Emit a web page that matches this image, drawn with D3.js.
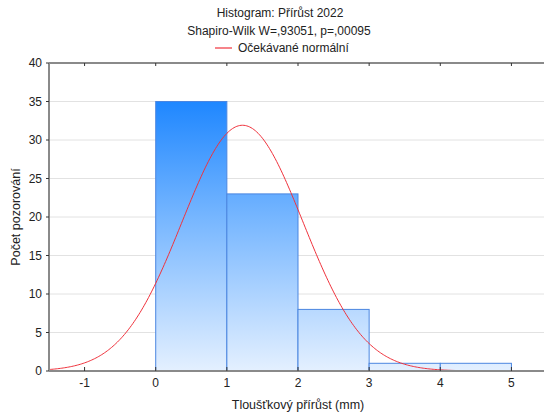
<!DOCTYPE html>
<html>
<head>
<meta charset="utf-8">
<script src="https://cdn.jsdelivr.net/npm/d3@7"></script>
<style>
  body { margin: 0; background: #fff; }
  svg text { font-family: "Liberation Sans", Arial, sans-serif; fill: #222; }
</style>
</head>
<body>
<div id="chart"></div>
<script>
// Data
var binStarts = [0, 1, 2, 3, 4];
var binCounts = [35, 23, 8, 1, 1];
var xTicks = [-1, 0, 1, 2, 3, 4, 5];
var yTicks = [0, 5, 10, 15, 20, 25, 30, 35, 40];
var normMean = 1.22;
var normSd = 0.85;
var binWidth = 1;

// Canvas
var W = 544, H = 414;
var margin = { top: 63, left: 49, right: -3, bottom: 43 };
var width = W - margin.left - margin.right;
var height = H - margin.top - margin.bottom;

var svg = d3.select("#chart").append("svg")
  .attr("width", W).attr("height", H);

var defs = svg.append("defs");
var grad = defs.append("linearGradient")
  .attr("id", "barGrad")
  .attr("gradientUnits", "userSpaceOnUse")
  .attr("x1", 0).attr("x2", 0);
defs.append("clipPath").attr("id", "clip")
  .append("rect").attr("width", width).attr("height", height);

var g = svg.append("g")
  .attr("transform", "translate(" + margin.left + "," + margin.top + ")");

// Scales
var x = d3.scaleLinear().domain([-1.5, 5.5]).range([0, width]);
var y = d3.scaleLinear().domain([0, 40]).range([height, 0]);

grad.attr("y1", y(35)).attr("y2", y(0));
grad.append("stop").attr("offset", "0%").attr("stop-color", "#1f87ff");
grad.append("stop").attr("offset", "45%").attr("stop-color", "#7ab8ff");
grad.append("stop").attr("offset", "100%").attr("stop-color", "#e4f0ff");

// Gridlines
g.selectAll(".grid").data(yTicks.filter(function(d) { return d > 0 && d < 40; }))
  .enter().append("line")
    .attr("x1", 0).attr("x2", width)
    .attr("y1", function(d) { return y(d); })
    .attr("y2", function(d) { return y(d); })
    .attr("stroke", "#e2e2e2").attr("stroke-width", 1);

// Bars
g.selectAll(".bar").data(binStarts)
  .enter().append("rect")
    .attr("x", function(d) { return x(d); })
    .attr("y", function(d, i) { return y(binCounts[i]); })
    .attr("width", function(d) { return x(d + binWidth) - x(d); })
    .attr("height", function(d, i) { return y(0) - y(binCounts[i]); })
    .attr("fill", "url(#barGrad)")
    .attr("stroke", "#4b86e0")
    .attr("stroke-width", 1);

// Expected normal curve
var curveX = d3.range(-1.5, 5.501, 0.02);
var n = d3.sum(binCounts);
function expected(v) {
  return n * binWidth / (normSd * Math.sqrt(2 * Math.PI)) *
    Math.exp(-Math.pow(v - normMean, 2) / (2 * normSd * normSd));
}
g.append("path")
  .datum(curveX)
  .attr("clip-path", "url(#clip)")
  .attr("fill", "none")
  .attr("stroke", "#f0323c")
  .attr("stroke-width", 1)
  .attr("d", d3.line()
    .x(function(d) { return x(d); })
    .y(function(d) { return y(expected(d)); }));

// Axes
var frame = "#8a8a8a";
g.append("line").attr("x1", 0).attr("x2", width).attr("y1", height).attr("y2", height)
  .attr("stroke", frame).attr("stroke-width", 2);
g.append("line").attr("x1", 0).attr("x2", width).attr("y1", 0).attr("y2", 0)
  .attr("stroke", frame).attr("stroke-width", 2);
g.append("line").attr("x1", 0).attr("x2", 0).attr("y1", 0).attr("y2", height)
  .attr("stroke", frame).attr("stroke-width", 2);

// X ticks (inside, bottom and top)
xTicks.forEach(function(t) {
  g.append("line").attr("x1", x(t)).attr("x2", x(t))
    .attr("y1", height).attr("y2", height - 4).attr("stroke", "#333");
  g.append("line").attr("x1", x(t)).attr("x2", x(t))
    .attr("y1", 0).attr("y2", 3).attr("stroke", "#333");
  g.append("text").attr("x", x(t)).attr("y", height + 16)
    .attr("text-anchor", "middle").attr("font-size", "12px")
    .text(t);
});

// Y ticks
yTicks.forEach(function(t) {
  g.append("line").attr("x1", -3).attr("x2", 0)
    .attr("y1", y(t)).attr("y2", y(t)).attr("stroke", "#333");
  g.append("text").attr("x", -7).attr("y", y(t) + 4)
    .attr("text-anchor", "end").attr("font-size", "12px")
    .text(t);
});

// Labels
svg.append("text").attr("x", 298).attr("y", 409)
  .attr("text-anchor", "middle").attr("font-size", "12.5px")
  .text("Tloušťkový přírůst (mm)");

svg.append("text")
  .attr("transform", "translate(20," + (margin.top + height / 2) + ") rotate(-90)")
  .attr("text-anchor", "middle").attr("font-size", "12.5px")
  .text("Počet pozorování");

svg.append("text").attr("x", 280).attr("y", 17)
  .attr("text-anchor", "middle").attr("font-size", "12px")
  .text("Histogram: Přírůst 2022");
svg.append("text").attr("x", 279).attr("y", 35)
  .attr("text-anchor", "middle").attr("font-size", "12px")
  .text("Shapiro-Wilk W=,93051, p=,00095");

// Legend
svg.append("line").attr("x1", 215).attr("x2", 232).attr("y1", 48).attr("y2", 48)
  .attr("stroke", "#f0323c").attr("stroke-width", 1.2);
svg.append("text").attr("x", 238).attr("y", 52)
  .attr("font-size", "12px")
  .text("Očekávané normální");
</script>
</body>
</html>
